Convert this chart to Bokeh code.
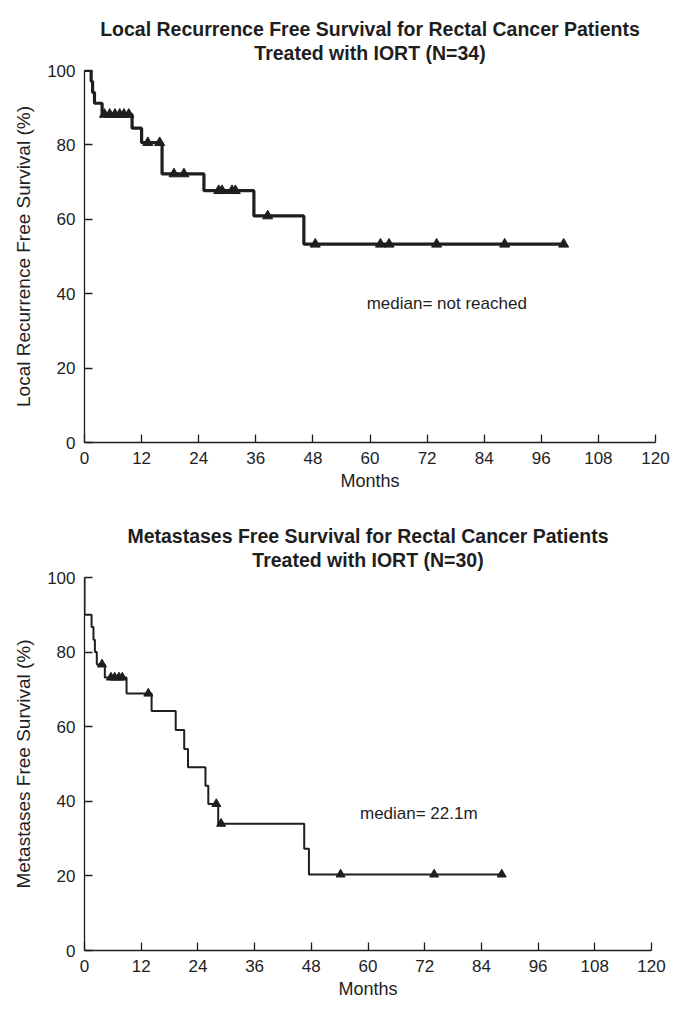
from bokeh.plotting import figure
from bokeh.models import Range1d, FixedTicker, Title
from bokeh.layouts import column
from bokeh.core.properties import value
from bokeh.embed import file_html
from bokeh.resources import INLINE

FONT = "Liberation Sans"
INK = "#1e1e1e"

month_ticks = [0, 12, 24, 36, 48, 60, 72, 84, 96, 108, 120]
pct_ticks = [0, 20, 40, 60, 80, 100]

# Local recurrence free survival (N=34): step curve
lrfs_time = [0, 1.4, 1.7, 2.1, 3.7, 10.0, 12.0, 16.3, 25.1, 35.6, 46.1, 100.7]
lrfs_surv = [100, 97.1, 94.1, 91.2, 88.2, 84.5, 80.6, 72.2, 67.7, 60.9, 53.3, 53.3]
# censored observations
lrfs_cens_time = [4.2, 5.3, 6.4, 7.4, 8.3, 9.3, 13.3, 15.8, 18.8, 20.9,
                  28.2, 28.9, 31.0, 31.7, 38.5, 48.5, 62.2, 64.0, 74.0, 88.3, 100.7]
lrfs_cens_surv = [88.2, 88.2, 88.2, 88.2, 88.2, 88.2, 80.6, 80.6, 72.2, 72.2,
                  67.7, 67.7, 67.7, 67.7, 60.9, 53.3, 53.3, 53.3, 53.3, 53.3, 53.3]

# Metastases free survival (N=30): step curve
mfs_time = [0, 0, 1.5, 1.9, 2.2, 2.6, 4.3, 8.9, 14.2, 19.3, 21.1, 21.9, 25.6, 26.2,
            28.3, 46.5, 47.5, 88.3]
mfs_surv = [100, 90.0, 86.7, 83.3, 80.0, 76.7, 73.2, 68.9, 64.2, 59.1, 54.0, 49.1, 44.2,
            39.3, 34.0, 27.3, 20.4, 20.4]
mfs_cens_time = [3.7, 5.6, 6.4, 7.3, 8.0, 13.5, 27.9, 28.9, 54.2, 74.0, 88.3]
mfs_cens_surv = [76.7, 73.2, 73.2, 73.2, 73.2, 68.9, 39.3, 34.0, 20.4, 20.4, 20.4]

top_title = ["Local Recurrence Free Survival for Rectal Cancer Patients", "Treated with IORT (N=34)"]
bot_title = ["Metastases Free Survival for Rectal Cancer Patients", "Treated with IORT (N=30)"]
top_ylabel = "Local Recurrence Free Survival (%)"
bot_ylabel = "Metastases Free Survival (%)"
top_note = "median= not reached"
bot_note = "median= 22.1m"


def km_fig(titles, ylabel, fw, fh, left, right, top, bottom):
    p = figure(frame_width=fw, frame_height=fh,
               x_range=Range1d(0, 120), y_range=Range1d(0, 100),
               output_backend="svg", toolbar_location=None,
               min_border_left=left, min_border_right=right,
               min_border_top=top, min_border_bottom=bottom,
               background_fill_color="white", border_fill_color="white")
    p.title.visible = False
    p.add_layout(Title(text=titles[1], align="center", text_font=FONT,
                       text_font_size="19.5px", text_font_style="bold",
                       text_color=INK, text_line_height=0.7,
                       standoff=14), "above")
    p.add_layout(Title(text=titles[0], align="center", text_font=FONT,
                       text_font_size="19.5px", text_font_style="bold",
                       text_color=INK, standoff=-14), "above")
    p.outline_line_color = None
    p.grid.visible = False
    p.xaxis.ticker = FixedTicker(ticks=month_ticks)
    p.yaxis.ticker = FixedTicker(ticks=pct_ticks)
    for ax in (p.xaxis[0], p.yaxis[0]):
        ax.axis_line_color = INK
        ax.axis_line_width = 1.3
        ax.major_tick_line_color = INK
        ax.major_tick_line_width = 1.3
        ax.major_tick_in = 8
        ax.major_tick_out = 0
        ax.minor_tick_in = 0
        ax.minor_tick_out = 0
        ax.major_label_text_font = FONT
        ax.major_label_text_font_size = "17px"
        ax.major_label_text_color = INK
        ax.axis_label_text_font = FONT
        ax.axis_label_text_font_size = "18px"
        ax.axis_label_text_font_style = "normal"
        ax.axis_label_text_color = INK
    p.yaxis.axis_label_text_font_size = "19px"
    p.xaxis.axis_label = "Months"
    p.yaxis.axis_label = ylabel
    p.xaxis.major_label_standoff = 9
    p.xaxis.axis_label_standoff = 4
    p.yaxis.major_label_standoff = 9
    p.yaxis.axis_label_standoff = 10
    return p


p1 = km_fig(top_title, top_ylabel, 571, 372, 84, 22, 70, 73)
p1.step(lrfs_time, lrfs_surv, mode="after", line_color=INK, line_width=3.2)
p1.scatter(lrfs_cens_time, lrfs_cens_surv, marker="triangle", size=10,
           fill_color=INK, line_color=INK)
p1.text(x=[59.3], y=[37.5], text=[top_note], text_font=value(FONT),
        text_font_size="17px", text_align="left", text_baseline="alphabetic",
        text_color=INK)

p2 = km_fig(bot_title, bot_ylabel, 567, 373, 83, 27, 62, 55)
p2.step(mfs_time, mfs_surv, mode="after", line_color=INK, line_width=2)
p2.scatter(mfs_cens_time, mfs_cens_surv, marker="triangle", size=9,
           fill_color=INK, line_color=INK)
p2.text(x=[58.3], y=[36.6], text=[bot_note], text_font=value(FONT),
        text_font_size="17px", text_align="left", text_baseline="alphabetic",
        text_color=INK)

layout = column(p1, p2, spacing=0)
open("out.html", "w").write(file_html(layout, INLINE))
